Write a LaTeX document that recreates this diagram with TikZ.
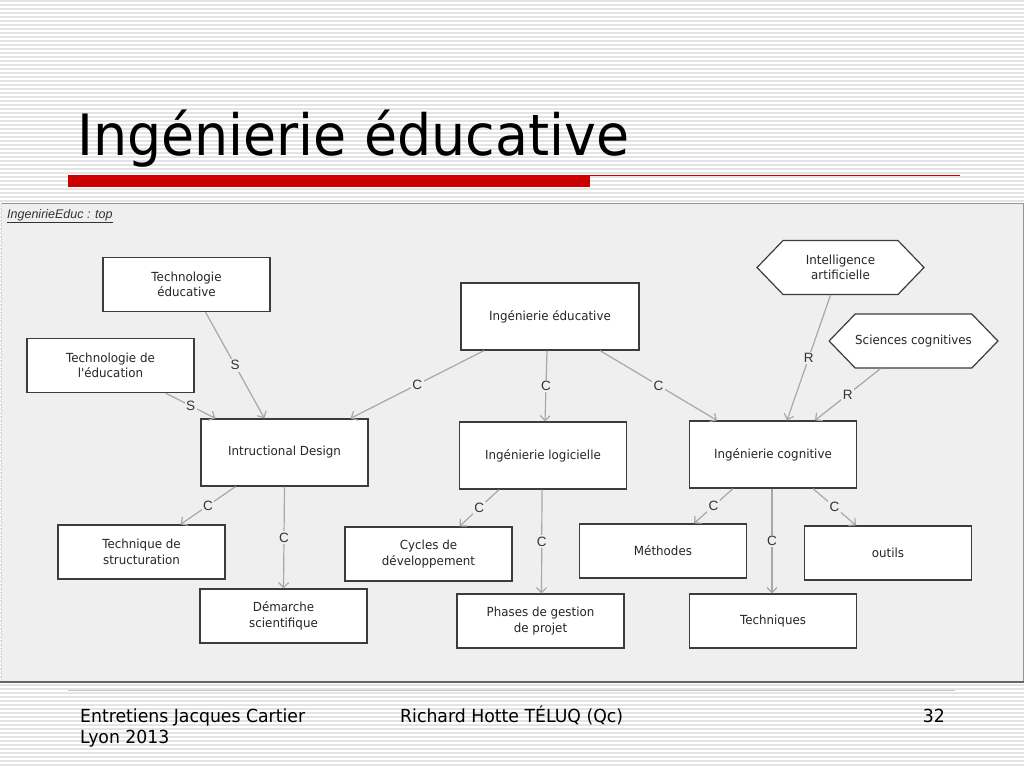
\documentclass[tikz,border=0pt]{standalone}
\usepackage{fontspec}
\setmainfont{DejaVu Sans}
\newfontfamily\titlefont[FakeStretch=0.945]{DejaVu Sans}
\newfontfamily\footfont[FakeStretch=0.96]{DejaVu Sans}
\newfontfamily\nodefont[FakeStretch=0.95]{DejaVu Sans}
\newfontfamily\labfont{Liberation Sans}
\usetikzlibrary{arrows.meta,shapes.symbols}
\definecolor{stripe}{RGB}{228,228,228}
\definecolor{panelbg}{RGB}{239,239,239}
\definecolor{panelline}{RGB}{150,150,150}
\definecolor{edgegray}{RGB}{168,168,168}
\definecolor{slidered}{RGB}{204,0,0}
\definecolor{footline}{RGB}{212,190,190}
\definecolor{boxline}{RGB}{60,60,60}
\tikzset{
  box/.style={draw=boxline, line width=1.2pt, fill=white, minimum width=167pt, minimum height=54pt, align=center, font=\nodefont\fontsize{12.5}{15.5}\selectfont, text=black!85, inner sep=2pt},
  tall/.style={minimum height=67pt},
  hexa/.style={draw=boxline, line width=1.2pt, fill=white, shape=signal, signal to=east and west, signal pointer angle=92, minimum width=167pt, minimum height=54pt, align=center, font=\nodefont\fontsize{12.5}{15.5}\selectfont, text=black!85, inner xsep=0pt, inner ysep=2pt},
  link/.style={draw=edgegray, line width=1.2pt, -{Straight Barb[length=5pt,width=10pt,line width=1.2pt]}},
  lab/.style={fill=panelbg, inner sep=1.5pt, font=\labfont\fontsize{13.5}{13.5}\selectfont, text=black!80}
}
\begin{document}
\begin{tikzpicture}[x=1pt,y=-1pt]
\useasboundingbox (0,0) rectangle (1024,768);
\fill[white] (0,0) rectangle (1024,768);
\foreach \yy in {1,5,...,768} \draw[stripe, line width=1.6pt] (0,\yy) -- (1024,\yy);
% title
\node[anchor=base west, inner sep=0pt, font=\titlefont\fontsize{57}{60}\selectfont] (title) at (77,155) {Ingénierie éducative};
\fill[slidered] (68,175) rectangle (590,187);
\draw[slidered, line width=1pt] (590,175.5) -- (960,175.5);
% panel
\fill[panelbg] (1,203) rectangle (1023,682);
\draw[panelline, line width=1pt] (1,203.5) -- (1023,203.5) -- (1023,682);
\draw[panelline!60, line width=0.8pt, dotted] (1.5,203) -- (1.5,682);
\draw[black!60, line width=1.5pt] (0,682) -- (1024,682);
\node[anchor=base west, inner sep=0pt, font=\labfont\itshape\fontsize{12.5}{14}\selectfont, text=black!80] (cap) at (7,218) {\underline{IngenirieEduc : top}};
% nodes
\node[box] (te) at (186.5,284.5) {Technologie\\éducative};
\node[box] (tdle) at (110.5,365.5) {Technologie de\\l'éducation};
\node[box, tall, minimum width=178pt] (ie) at (550,316.5) {Ingénierie éducative};
\node[hexa] (ia) at (840.5,267.5) {Intelligence\\artificielle};
\node[hexa] (sc) at (913.5,341) {Sciences cognitives};
\node[box, tall] (id) at (284.5,452.5) {Intructional Design};
\node[box, tall] (il) at (543,455.5) {Ingénierie logicielle};
\node[box, tall] (ic) at (773,454.5) {Ingénierie cognitive};
\node[box] (tds) at (141.5,552) {Technique de\\structuration};
\node[box] (cdd) at (428.5,554) {Cycles de\\développement};
\node[box] (meth) at (663,551) {Méthodes};
\node[box] (out) at (888,553) {outils};
\node[box] (ds) at (283.5,616) {Démarche\\scientifique};
\node[box] (pdg) at (540.5,621) {Phases de gestion\\de projet};
\node[box] (tech) at (773,621) {Techniques};
% edges
\draw[link] ([xshift=19pt]te.south) -- node[lab]{S} ([xshift=-20pt]id.north);
\draw[link] ([xshift=55pt]tdle.south) -- node[lab]{S} ([xshift=-69pt]id.north);
\draw[link] ([xshift=-66pt]ie.south) -- node[lab]{C} ([xshift=66pt]id.north);
\draw[link] ([xshift=-3pt]ie.south) -- node[lab]{C} ([xshift=2pt]il.north);
\draw[link] ([xshift=50pt]ie.south) -- node[lab]{C} ([xshift=-56pt]ic.north);
\draw[link] ([xshift=-10pt]ia.south) -- node[lab]{R} ([xshift=14pt]ic.north);
\draw[link] ([xshift=-33pt]sc.south) -- node[lab]{R} ([xshift=42pt]ic.north);
\draw[link] ([xshift=-49pt]id.south) -- node[lab]{C} ([xshift=39pt]tds.north);
\draw[link] (id.south) -- node[lab]{C} (ds.north);
\draw[link] ([xshift=-44pt]il.south) -- node[lab]{C} ([xshift=31pt]cdd.north);
\draw[link] ([xshift=-1pt]il.south) -- node[lab]{C} ([xshift=1pt]pdg.north);
\draw[link] ([xshift=-40pt]ic.south) -- node[lab]{C} ([xshift=31pt]meth.north);
\draw[link] ([xshift=-1pt]ic.south) -- node[lab]{C} ([xshift=-1pt]tech.north);
\draw[link] ([xshift=40pt]ic.south) -- node[lab]{C} ([xshift=-32pt]out.north);
% footer
\draw[footline, line width=1.2pt] (68,690.5) -- (955,690.5);
\node[anchor=base west, inner sep=0pt, font=\footfont\fontsize{18}{21}\selectfont] (f1) at (80,722) {Entretiens Jacques Cartier};
\node[anchor=base west, inner sep=0pt, font=\footfont\fontsize{18}{21}\selectfont] (f2) at (80,743) {Lyon 2013};
\node[anchor=base west, inner sep=0pt, font=\footfont\fontsize{18}{21}\selectfont] (f3) at (400,722) {Richard Hotte TÉLUQ (Qc)};
\node[anchor=base east, inner sep=0pt, font=\footfont\fontsize{18}{21}\selectfont] (f4) at (945,722) {32};
\end{tikzpicture}
\end{document}
